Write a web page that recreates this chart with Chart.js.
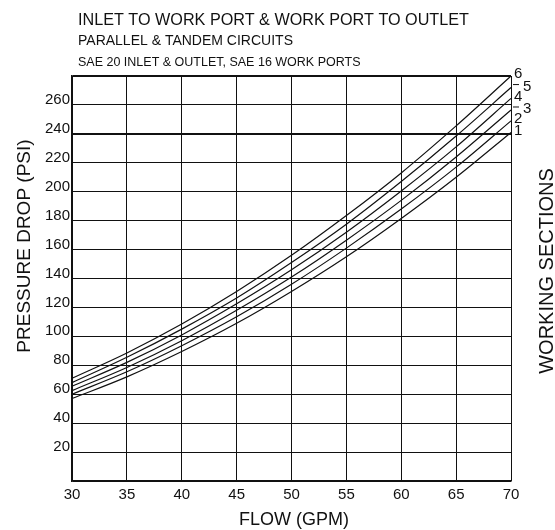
<!DOCTYPE html>
<html>
<head>
<meta charset="utf-8">
<script src="https://cdn.jsdelivr.net/npm/chart.js@4.4.0/dist/chart.umd.min.js"></script>
<style>
  body { margin: 0; background: #fff; }
  #pressureChart { display: block; }
</style>
</head>
<body>
<canvas id="pressureChart" width="555" height="530"></canvas>
<script>
// Data
const flowGpm = [30, 35, 40, 45, 50, 55, 60, 65, 70];
const section1 = [57, 72, 89.5, 109, 131, 155, 181.5, 210, 241];
const section2 = [60, 75.5, 93.5, 113.5, 136, 161, 188, 217, 249];
const section3 = [62.5, 78.5, 97, 118, 141, 166.5, 194, 224, 256.5];
const section4 = [65.5, 82, 101, 122.5, 146, 172, 200.5, 231, 264.5];
const section5 = [68, 85.5, 105, 126.5, 151, 177.5, 207, 238.5, 272];
const section6 = [71, 88.5, 108.5, 131, 156, 183.5, 213, 245.5, 280];
const sectionNames = ['1', '2', '3', '4', '5', '6'];
const xTicks = [30, 35, 40, 45, 50, 55, 60, 65, 70];
const yTicks = [20, 40, 60, 80, 100, 120, 140, 160, 180, 200, 220, 240, 260];

const titleLines = [
    'INLET TO WORK PORT & WORK PORT TO OUTLET',
    'PARALLEL & TANDEM CIRCUITS',
    'SAE 20 INLET & OUTLET, SAE 16 WORK PORTS'
];
const xTitle = 'FLOW (GPM)';
const yTitle = 'PRESSURE DROP (PSI)';
const rightTitle = 'WORKING SECTIONS';

const FONT = '"Liberation Sans", Arial, sans-serif';
const INK = '#111';

const allSections = [section1, section2, section3, section4, section5, section6];

// extra text: titles, axis names, curve numbers
const chartText = {
    id: 'chartText',
    afterDraw(chart) {
        const ctx = chart.ctx;
        const area = chart.chartArea;
        const yScale = chart.scales.y;
        ctx.save();
        ctx.fillStyle = INK;
        ctx.strokeStyle = INK;

        ctx.textAlign = 'left';
        ctx.textBaseline = 'alphabetic';
        ctx.font = '16.2px ' + FONT;
        ctx.fillText(titleLines[0], 78, 25);
        ctx.font = '14px ' + FONT;
        ctx.fillText(titleLines[1], 78, 45);
        ctx.font = '12.5px ' + FONT;
        ctx.fillText(titleLines[2], 78, 66);

        // x axis name
        ctx.textAlign = 'center';
        ctx.font = '18px ' + FONT;
        ctx.fillText(xTitle, 294, 525);

        // y axis name
        ctx.save();
        ctx.translate(30, 246);
        ctx.rotate(-Math.PI / 2);
        ctx.font = '19px ' + FONT;
        ctx.fillText(yTitle, 0, 0);
        ctx.restore();

        // right side name
        ctx.save();
        ctx.translate(553, 271);
        ctx.rotate(-Math.PI / 2);
        ctx.font = '20px ' + FONT;
        ctx.fillText(rightTitle, 0, 0);
        ctx.restore();

        // numbers at the end of each curve
        ctx.textAlign = 'left';
        ctx.textBaseline = 'middle';
        ctx.font = '15px ' + FONT;
        ctx.lineWidth = 1;
        allSections.forEach((vals, i) => {
            const py = yScale.getPixelForValue(vals[vals.length - 1]) - 2;
            const name = sectionNames[i];
            if (name === '5' || name === '3') {
                ctx.beginPath();
                ctx.moveTo(area.right + 2, py - 1);
                ctx.lineTo(area.right + 8, py - 1);
                ctx.stroke();
                ctx.fillText(name, area.right + 12, py + 1);
            } else {
                ctx.fillText(name, area.right + 3, py);
            }
        });
        ctx.restore();
    }
};

const ctx = document.getElementById('pressureChart').getContext('2d');
new Chart(ctx, {
    type: 'line',
    data: {
        datasets: allSections.map((vals, i) => ({
            label: sectionNames[i],
            data: flowGpm.map((f, k) => ({ x: f, y: vals[k] })),
            borderColor: INK,
            borderWidth: 1.2,
            pointRadius: 0,
            fill: false,
            cubicInterpolationMode: 'monotone',
            clip: false
        }))
    },
    options: {
        responsive: false,
        animation: false,
        layout: { padding: { top: 76, right: 44, left: 0, bottom: 0 } },
        plugins: {
            legend: { display: false },
            tooltip: { enabled: false }
        },
        scales: {
            x: {
                type: 'linear',
                min: 30,
                max: 70,
                afterBuildTicks: s => { s.ticks = xTicks.map(v => ({ value: v })); },
                afterFit: s => { s.height = 49; },
                grid: { color: INK, lineWidth: 1, drawTicks: false },
                border: { color: INK, width: 1.5 },
                ticks: {
                    color: INK,
                    padding: 5,
                    font: { family: FONT, size: 15 }
                }
            },
            y: {
                type: 'linear',
                min: 0,
                max: 280,
                afterBuildTicks: s => { s.ticks = [0].concat(yTicks, [280]).map(v => ({ value: v })); },
                afterFit: s => { s.width = 72; },
                grid: {
                    color: INK,
                    drawTicks: false,
                    lineWidth: c => (c.tick && (c.tick.value === 240 || c.tick.value === 280)) ? 2 : 1
                },
                border: { color: INK, width: 1.5 },
                ticks: {
                    color: INK,
                    padding: 2,
                    labelOffset: -5,
                    font: { family: FONT, size: 15 },
                    callback: v => (yTicks.includes(v) ? String(v) : '')
                }
            }
        }
    },
    plugins: [chartText]
});
</script>
</body>
</html>
